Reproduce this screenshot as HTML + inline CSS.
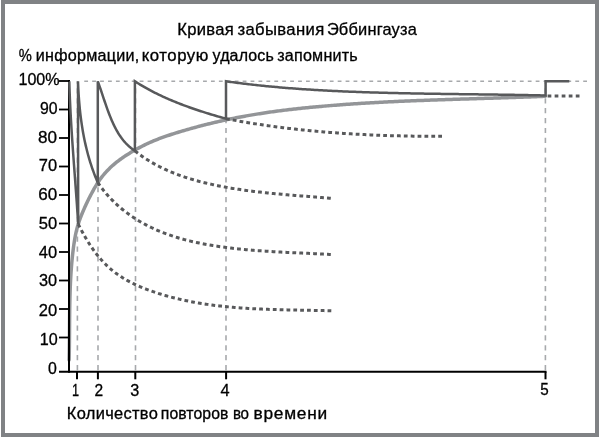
<!DOCTYPE html>
<html><head><meta charset="utf-8"><style>
html,body{margin:0;padding:0;background:#fff;}
body{width:600px;height:437px;overflow:hidden;}
svg{display:block;}
text{font-family:"Liberation Sans",sans-serif;fill:#000;stroke:#000;stroke-width:0.3px;}
svg{will-change:transform;}
</style></head><body>
<svg width="600" height="437" viewBox="0 0 600 437">
<rect x="0" y="0" width="600" height="437" fill="#fff"/>
<rect x="3" y="2" width="594" height="433" fill="none" stroke="#808285" stroke-width="4"/>
<g stroke="#a7a9ac" stroke-width="1.5" fill="none">
<line x1="84.25" y1="81.3" x2="587" y2="81.3" stroke-dasharray="3.8 4.12"/>
<g stroke-dasharray="5.2 4.68" stroke-width="1.6"><line x1="77.40" y1="370.2" x2="77.40" y2="81.30"/><line x1="98.00" y1="370.2" x2="98.00" y2="81.30"/><line x1="135.50" y1="370.2" x2="135.50" y2="81.30"/><line x1="226.00" y1="370.2" x2="226.00" y2="81.30"/><line x1="545.40" y1="370.2" x2="545.40" y2="81.30"/></g>
</g>
<path d="M69.10 360.00 L69.14 358.50 L69.17 357.00 L69.20 355.50 L69.23 354.00 L69.26 352.49 L69.29 350.99 L69.31 349.49 L69.33 347.98 L69.36 346.48 L69.37 344.97 L69.39 343.47 L69.41 341.96 L69.42 340.46 L69.44 338.95 L69.45 337.45 L69.46 335.94 L69.48 334.43 L69.49 332.92 L69.50 331.41 L69.51 329.91 L69.52 328.40 L69.53 326.89 L69.54 325.38 L69.55 323.87 L69.56 322.36 L69.58 320.85 L69.59 319.34 L69.60 317.83 L69.62 316.32 L69.63 314.81 L69.65 313.30 L69.67 311.79 L69.69 310.28 L69.71 308.77 L69.73 307.27 L69.76 305.76 L69.78 304.25 L69.81 302.74 L69.84 301.23 L69.88 299.72 L69.91 298.21 L69.95 296.70 L69.99 295.19 L70.04 293.68 L70.08 292.17 L70.13 290.66 L70.19 289.16 L70.24 287.65 L70.30 286.14 L70.37 284.63 L70.43 283.13 L70.50 281.62 L70.58 280.11 L70.66 278.61 L70.74 277.10 L70.83 275.60 L70.92 274.09 L71.02 272.59 L71.12 271.09 L71.23 269.58 L71.34 268.08 L71.46 266.58 L71.58 265.08 L71.71 263.58 L71.84 262.08 L71.98 260.58 L72.13 259.08 L72.28 257.58 L72.44 256.08 L72.60 254.59 L72.77 253.09 L72.95 251.60 L73.13 250.10 L73.32 248.61 L73.51 247.11 L73.72 245.62 L73.93 244.13 L74.15 242.64 L74.38 241.15 L74.62 239.67 L74.88 238.19 L75.15 236.71 L75.43 235.23 L75.73 233.76 L76.05 232.30 L76.39 230.84 L76.74 229.38 L77.12 227.94 L77.52 226.49 L77.95 225.06 L78.39 223.63 L78.86 222.20 L79.34 220.79 L79.84 219.37 L80.36 217.97 L80.90 216.56 L81.45 215.16 L82.01 213.77 L82.59 212.37 L83.17 210.98 L83.77 209.60 L84.39 208.21 L85.00 206.83 L85.63 205.45 L86.27 204.07 L86.92 202.70 L87.57 201.33 L88.24 199.96 L88.91 198.60 L89.59 197.24 L90.29 195.89 L90.99 194.54 L91.70 193.20 L92.42 191.87 L93.15 190.54 L93.88 189.22 L94.63 187.90 L95.40 186.60 L96.17 185.31 L96.96 184.03 L97.77 182.76 L98.60 181.51 L99.44 180.27 L100.31 179.05 L101.19 177.85 L102.10 176.67 L103.03 175.50 L103.98 174.36 L104.95 173.23 L105.95 172.12 L106.96 171.03 L107.99 169.95 L109.04 168.90 L110.11 167.86 L111.20 166.83 L112.30 165.83 L113.42 164.84 L114.56 163.87 L115.71 162.91 L116.88 161.97 L118.07 161.05 L119.27 160.14 L120.48 159.24 L121.71 158.37 L122.95 157.50 L124.20 156.65 L125.46 155.82 L126.73 155.00 L128.01 154.19 L129.30 153.39 L130.60 152.60 L131.91 151.83 L133.22 151.06 L134.53 150.31 L135.85 149.56 L137.18 148.83 L138.51 148.10 L139.84 147.39 L141.18 146.69 L142.52 146.00 L143.87 145.32 L145.22 144.66 L146.58 144.01 L147.94 143.37 L149.31 142.75 L150.69 142.14 L152.07 141.55 L153.45 140.96 L154.84 140.39 L156.23 139.83 L157.63 139.28 L159.03 138.74 L160.44 138.21 L161.84 137.69 L163.26 137.18 L164.67 136.68 L166.09 136.18 L167.51 135.70 L168.94 135.22 L170.36 134.75 L171.79 134.28 L173.22 133.83 L174.66 133.37 L176.09 132.92 L177.53 132.48 L178.97 132.04 L180.41 131.61 L181.85 131.18 L183.29 130.75 L184.74 130.33 L186.18 129.91 L187.63 129.49 L189.08 129.08 L190.52 128.67 L191.97 128.27 L193.43 127.87 L194.88 127.47 L196.33 127.07 L197.79 126.68 L199.24 126.30 L200.70 125.91 L202.16 125.54 L203.61 125.16 L205.07 124.79 L206.54 124.42 L208.00 124.06 L209.46 123.70 L210.92 123.34 L212.39 122.99 L213.85 122.64 L215.32 122.29 L216.79 121.95 L218.26 121.61 L219.73 121.28 L221.20 120.95 L222.67 120.62 L224.14 120.30 L225.61 119.98 L227.09 119.66 L228.56 119.35 L230.04 119.04 L231.51 118.73 L232.99 118.43 L234.47 118.14 L235.95 117.84 L237.42 117.55 L238.90 117.27 L240.38 116.99 L241.87 116.71 L243.35 116.43 L244.83 116.16 L246.31 115.89 L247.80 115.63 L249.28 115.37 L250.76 115.11 L252.25 114.86 L253.74 114.61 L255.22 114.37 L256.71 114.12 L258.20 113.89 L259.69 113.65 L261.17 113.42 L262.66 113.19 L264.15 112.97 L265.64 112.74 L267.13 112.52 L268.63 112.31 L270.12 112.10 L271.61 111.89 L273.10 111.68 L274.59 111.48 L276.09 111.28 L277.58 111.08 L279.08 110.88 L280.57 110.69 L282.06 110.50 L283.56 110.31 L285.06 110.13 L286.55 109.95 L288.05 109.77 L289.54 109.59 L291.04 109.42 L292.54 109.25 L294.04 109.08 L295.53 108.91 L297.03 108.75 L298.53 108.58 L300.03 108.42 L301.53 108.27 L303.02 108.11 L304.52 107.96 L306.02 107.80 L307.52 107.65 L309.02 107.51 L310.52 107.36 L312.02 107.22 L313.52 107.07 L315.02 106.93 L316.52 106.80 L318.02 106.66 L319.52 106.52 L321.03 106.39 L322.53 106.26 L324.03 106.13 L325.53 106.00 L327.03 105.87 L328.53 105.75 L330.03 105.62 L331.53 105.50 L333.04 105.38 L334.54 105.26 L336.04 105.14 L337.54 105.03 L339.04 104.91 L340.55 104.80 L342.05 104.69 L343.55 104.58 L345.05 104.47 L346.56 104.36 L348.06 104.25 L349.56 104.15 L351.06 104.05 L352.57 103.95 L354.07 103.84 L355.57 103.75 L357.08 103.65 L358.58 103.55 L360.08 103.46 L361.59 103.36 L363.09 103.27 L364.60 103.18 L366.10 103.09 L367.60 103.00 L369.11 102.91 L370.61 102.82 L372.12 102.74 L373.62 102.65 L375.12 102.57 L376.63 102.48 L378.13 102.40 L379.64 102.32 L381.14 102.24 L382.65 102.16 L384.15 102.09 L385.66 102.01 L387.16 101.94 L388.67 101.86 L390.17 101.79 L391.68 101.72 L393.18 101.64 L394.69 101.57 L396.19 101.50 L397.70 101.43 L399.20 101.37 L400.71 101.30 L402.21 101.23 L403.72 101.17 L405.22 101.10 L406.73 101.04 L408.24 100.97 L409.74 100.91 L411.25 100.85 L412.75 100.79 L414.26 100.73 L415.77 100.67 L417.27 100.61 L418.78 100.55 L420.28 100.49 L421.79 100.44 L423.30 100.38 L424.80 100.32 L426.31 100.27 L427.81 100.21 L429.32 100.16 L430.83 100.10 L432.33 100.05 L433.84 100.00 L435.35 99.95 L436.85 99.89 L438.36 99.84 L439.87 99.79 L441.37 99.74 L442.88 99.69 L444.38 99.64 L445.89 99.59 L447.40 99.54 L448.90 99.49 L450.41 99.44 L451.92 99.39 L453.42 99.35 L454.93 99.30 L456.44 99.25 L457.94 99.20 L459.45 99.16 L460.96 99.11 L462.46 99.06 L463.97 99.02 L465.48 98.97 L466.98 98.92 L468.49 98.88 L470.00 98.83 L471.50 98.79 L473.01 98.74 L474.52 98.69 L476.02 98.65 L477.53 98.60 L479.04 98.56 L480.54 98.51 L482.05 98.46 L483.56 98.42 L485.06 98.37 L486.57 98.33 L488.08 98.28 L489.58 98.23 L491.09 98.19 L492.60 98.14 L494.10 98.09 L495.61 98.05 L497.12 98.00 L498.62 97.95 L500.13 97.91 L501.63 97.86 L503.14 97.81 L504.65 97.76 L506.15 97.71 L507.66 97.66 L509.17 97.62 L510.67 97.57 L512.18 97.52 L513.68 97.47 L515.19 97.42 L516.70 97.36 L518.20 97.31 L519.71 97.26 L521.21 97.21 L522.72 97.16 L524.22 97.10 L525.73 97.05 L527.24 97.00 L528.74 96.94 L530.25 96.89 L531.75 96.83 L533.26 96.77 L534.76 96.72 L536.27 96.66 L537.77 96.60 L539.28 96.54 L540.78 96.48 L542.29 96.42 L543.79 96.36 L545.30 96.30" fill="none" stroke="#939598" stroke-width="3.5" stroke-linecap="round" stroke-linejoin="round"/>
<g fill="none" stroke="#58595b" stroke-width="3" stroke-dasharray="3.8 3.1">
<path d="M78.20 224.00 L78.86 225.32 L79.53 226.65 L80.21 227.98 L80.91 229.30 L81.61 230.63 L82.32 231.96 L83.05 233.28 L83.78 234.60 L84.53 235.92 L85.29 237.24 L86.06 238.55 L86.85 239.86 L87.64 241.17 L88.45 242.46 L89.27 243.75 L90.10 245.04 L90.95 246.31 L91.81 247.58 L92.68 248.84 L93.56 250.08 L94.46 251.32 L95.38 252.55 L96.30 253.76 L97.24 254.96 L98.19 256.15 L99.16 257.32 L100.15 258.48 L101.14 259.63 L102.15 260.76 L103.18 261.87 L104.22 262.97 L105.28 264.05 L106.35 265.11 L107.44 266.15 L108.54 267.17 L109.66 268.17 L110.79 269.15 L111.94 270.11 L113.11 271.05 L114.29 271.97 L115.48 272.88 L116.69 273.76 L117.91 274.62 L119.14 275.47 L120.39 276.30 L121.65 277.11 L122.92 277.91 L124.20 278.68 L125.49 279.44 L126.80 280.19 L128.11 280.92 L129.44 281.63 L130.77 282.33 L132.11 283.01 L133.46 283.68 L134.82 284.34 L136.19 284.98 L137.57 285.60 L138.95 286.22 L140.34 286.82 L141.74 287.40 L143.14 287.98 L144.55 288.54 L145.96 289.09 L147.38 289.63 L148.80 290.16 L150.23 290.68 L151.66 291.19 L153.09 291.68 L154.53 292.17 L155.97 292.65 L157.42 293.12 L158.86 293.58 L160.31 294.03 L161.76 294.47 L163.21 294.91 L164.66 295.33 L166.11 295.75 L167.57 296.16 L169.03 296.56 L170.49 296.95 L171.95 297.34 L173.41 297.71 L174.87 298.08 L176.34 298.44 L177.81 298.80 L179.28 299.14 L180.75 299.48 L182.22 299.81 L183.69 300.14 L185.17 300.45 L186.65 300.76 L188.12 301.06 L189.60 301.36 L191.08 301.65 L192.57 301.93 L194.05 302.20 L195.54 302.47 L197.02 302.73 L198.51 302.99 L200.00 303.24 L201.49 303.48 L202.98 303.71 L204.47 303.95 L205.97 304.17 L207.46 304.39 L208.96 304.60 L210.45 304.81 L211.95 305.01 L213.45 305.20 L214.95 305.40 L216.45 305.58 L217.95 305.76 L219.45 305.93 L220.96 306.10 L222.46 306.27 L223.96 306.43 L225.47 306.58 L226.98 306.73 L228.48 306.88 L229.99 307.02 L231.50 307.16 L233.01 307.29 L234.52 307.42 L236.03 307.54 L237.54 307.66 L239.05 307.77 L240.56 307.89 L242.08 307.99 L243.59 308.10 L245.10 308.20 L246.62 308.29 L248.13 308.39 L249.65 308.48 L251.16 308.56 L252.68 308.65 L254.19 308.73 L255.71 308.81 L257.23 308.88 L258.74 308.95 L260.26 309.02 L261.78 309.09 L263.29 309.15 L264.81 309.21 L266.33 309.27 L267.85 309.33 L269.36 309.38 L270.88 309.43 L272.40 309.48 L273.92 309.53 L275.43 309.58 L276.95 309.62 L278.47 309.66 L279.98 309.71 L281.50 309.74 L283.02 309.78 L284.53 309.82 L286.05 309.86 L287.57 309.89 L289.08 309.92 L290.60 309.96 L292.11 309.99 L293.63 310.02 L295.14 310.05 L296.65 310.08 L298.17 310.11 L299.68 310.14 L301.19 310.17 L302.71 310.19 L304.22 310.22 L305.73 310.25 L307.24 310.28 L308.75 310.31 L310.26 310.33 L311.76 310.36 L313.27 310.39 L314.78 310.42 L316.29 310.45 L317.79 310.48 L319.30 310.51 L320.80 310.54 L322.30 310.58 L323.80 310.61 L325.30 310.65 L326.80 310.68 L328.30 310.72 L329.80 310.76 L331.30 310.80" stroke-dasharray="3.768 3.074"/><path d="M97.80 182.60 L98.68 183.89 L99.58 185.16 L100.49 186.42 L101.41 187.67 L102.35 188.89 L103.30 190.11 L104.27 191.31 L105.24 192.49 L106.23 193.66 L107.24 194.82 L108.25 195.96 L109.28 197.08 L110.32 198.19 L111.38 199.29 L112.44 200.37 L113.52 201.44 L114.61 202.49 L115.71 203.53 L116.82 204.55 L117.95 205.56 L119.08 206.56 L120.22 207.54 L121.38 208.51 L122.55 209.47 L123.72 210.41 L124.91 211.34 L126.10 212.25 L127.31 213.15 L128.53 214.04 L129.75 214.91 L130.98 215.77 L132.23 216.62 L133.48 217.45 L134.74 218.27 L136.01 219.08 L137.29 219.88 L138.58 220.66 L139.87 221.42 L141.17 222.18 L142.48 222.92 L143.80 223.65 L145.12 224.37 L146.46 225.08 L147.80 225.77 L149.14 226.45 L150.49 227.12 L151.85 227.77 L153.22 228.41 L154.59 229.05 L155.97 229.66 L157.35 230.27 L158.74 230.87 L160.14 231.45 L161.54 232.02 L162.94 232.58 L164.35 233.13 L165.77 233.66 L167.19 234.19 L168.61 234.70 L170.04 235.20 L171.47 235.69 L172.91 236.17 L174.35 236.64 L175.79 237.09 L177.24 237.54 L178.69 237.97 L180.15 238.40 L181.61 238.82 L183.07 239.22 L184.53 239.62 L186.00 240.00 L187.47 240.38 L188.95 240.75 L190.42 241.11 L191.90 241.46 L193.38 241.80 L194.87 242.13 L196.35 242.45 L197.84 242.77 L199.33 243.08 L200.82 243.38 L202.32 243.67 L203.81 243.96 L205.31 244.24 L206.81 244.51 L208.31 244.78 L209.81 245.04 L211.31 245.29 L212.81 245.53 L214.32 245.77 L215.82 246.01 L217.33 246.24 L218.84 246.46 L220.34 246.68 L221.85 246.89 L223.36 247.10 L224.87 247.30 L226.38 247.50 L227.89 247.69 L229.40 247.88 L230.91 248.06 L232.42 248.24 L233.93 248.41 L235.44 248.58 L236.96 248.75 L238.47 248.91 L239.98 249.06 L241.50 249.22 L243.01 249.36 L244.53 249.51 L246.04 249.65 L247.56 249.79 L249.07 249.92 L250.59 250.05 L252.10 250.18 L253.62 250.30 L255.14 250.42 L256.65 250.54 L258.17 250.65 L259.69 250.76 L261.20 250.87 L262.72 250.98 L264.24 251.08 L265.75 251.18 L267.27 251.28 L268.79 251.37 L270.31 251.47 L271.82 251.56 L273.34 251.65 L274.86 251.74 L276.37 251.82 L277.89 251.91 L279.41 251.99 L280.92 252.07 L282.44 252.15 L283.96 252.23 L285.47 252.30 L286.99 252.38 L288.51 252.45 L290.02 252.53 L291.54 252.60 L293.05 252.67 L294.57 252.74 L296.08 252.81 L297.60 252.88 L299.11 252.95 L300.63 253.02 L302.14 253.09 L303.65 253.16 L305.16 253.23 L306.68 253.30 L308.19 253.37 L309.70 253.44 L311.21 253.51 L312.72 253.58 L314.23 253.65 L315.74 253.72 L317.25 253.80 L318.76 253.87 L320.26 253.94 L321.77 254.02 L323.28 254.10 L324.78 254.17 L326.29 254.25 L327.79 254.33 L329.30 254.42 L330.80 254.50" stroke-dasharray="3.818 3.115"/><path d="M134.90 150.90 L136.11 151.86 L137.33 152.80 L138.55 153.72 L139.79 154.63 L141.03 155.52 L142.28 156.40 L143.53 157.26 L144.79 158.10 L146.06 158.93 L147.34 159.75 L148.63 160.55 L149.92 161.34 L151.21 162.11 L152.52 162.87 L153.83 163.61 L155.15 164.35 L156.47 165.06 L157.80 165.77 L159.13 166.46 L160.48 167.14 L161.82 167.80 L163.18 168.46 L164.53 169.10 L165.90 169.72 L167.27 170.34 L168.64 170.94 L170.02 171.54 L171.41 172.12 L172.80 172.69 L174.19 173.25 L175.59 173.79 L176.99 174.33 L178.40 174.85 L179.81 175.37 L181.23 175.88 L182.65 176.37 L184.08 176.85 L185.50 177.33 L186.94 177.80 L188.37 178.25 L189.81 178.70 L191.26 179.14 L192.70 179.56 L194.15 179.98 L195.61 180.40 L197.06 180.80 L198.52 181.19 L199.99 181.58 L201.45 181.96 L202.92 182.33 L204.39 182.70 L205.86 183.05 L207.34 183.40 L208.81 183.75 L210.29 184.08 L211.77 184.41 L213.26 184.73 L214.74 185.05 L216.23 185.36 L217.72 185.67 L219.21 185.96 L220.70 186.26 L222.19 186.54 L223.69 186.83 L225.18 187.10 L226.68 187.37 L228.18 187.63 L229.68 187.89 L231.18 188.15 L232.68 188.40 L234.19 188.64 L235.69 188.88 L237.20 189.11 L238.71 189.34 L240.21 189.57 L241.72 189.79 L243.23 190.00 L244.75 190.21 L246.26 190.42 L247.77 190.62 L249.28 190.82 L250.80 191.02 L252.31 191.21 L253.83 191.40 L255.34 191.58 L256.86 191.76 L258.38 191.94 L259.90 192.11 L261.41 192.28 L262.93 192.45 L264.45 192.61 L265.97 192.77 L267.49 192.93 L269.01 193.09 L270.52 193.24 L272.04 193.39 L273.56 193.54 L275.08 193.68 L276.60 193.83 L278.12 193.97 L279.64 194.11 L281.15 194.24 L282.67 194.38 L284.19 194.51 L285.71 194.64 L287.22 194.77 L288.74 194.90 L290.25 195.03 L291.77 195.16 L293.28 195.28 L294.80 195.40 L296.31 195.53 L297.82 195.65 L299.33 195.77 L300.84 195.89 L302.35 196.01 L303.86 196.13 L305.37 196.25 L306.88 196.37 L308.38 196.48 L309.89 196.60 L311.39 196.72 L312.89 196.84 L314.39 196.96 L315.89 197.08 L317.39 197.19 L318.88 197.31 L320.38 197.44 L321.87 197.56 L323.36 197.68 L324.86 197.80 L326.34 197.92 L327.83 198.05 L329.32 198.17 L330.80 198.30" stroke-dasharray="3.812 3.110"/><path d="M226.00 118.70 L227.49 118.98 L228.98 119.27 L230.48 119.55 L231.97 119.82 L233.47 120.10 L234.96 120.37 L236.45 120.64 L237.95 120.90 L239.45 121.17 L240.94 121.43 L242.44 121.68 L243.93 121.94 L245.43 122.19 L246.93 122.44 L248.43 122.69 L249.92 122.93 L251.42 123.17 L252.92 123.41 L254.42 123.65 L255.92 123.88 L257.42 124.11 L258.92 124.34 L260.42 124.57 L261.92 124.79 L263.42 125.01 L264.93 125.23 L266.43 125.45 L267.93 125.66 L269.43 125.87 L270.94 126.08 L272.44 126.29 L273.94 126.49 L275.45 126.69 L276.95 126.89 L278.46 127.09 L279.96 127.28 L281.47 127.47 L282.97 127.66 L284.48 127.85 L285.98 128.03 L287.49 128.22 L289.00 128.40 L290.50 128.57 L292.01 128.75 L293.52 128.92 L295.03 129.09 L296.54 129.26 L298.04 129.42 L299.55 129.59 L301.06 129.75 L302.57 129.91 L304.08 130.06 L305.59 130.22 L307.10 130.37 L308.61 130.52 L310.12 130.67 L311.63 130.81 L313.14 130.96 L314.65 131.10 L316.16 131.24 L317.67 131.37 L319.19 131.51 L320.70 131.64 L322.21 131.77 L323.72 131.90 L325.23 132.03 L326.75 132.15 L328.26 132.27 L329.77 132.39 L331.29 132.51 L332.80 132.63 L334.31 132.74 L335.83 132.85 L337.34 132.96 L338.85 133.07 L340.37 133.18 L341.88 133.28 L343.40 133.38 L344.91 133.48 L346.43 133.58 L347.94 133.68 L349.46 133.77 L350.97 133.86 L352.49 133.95 L354.00 134.04 L355.52 134.13 L357.03 134.21 L358.55 134.30 L360.06 134.38 L361.58 134.46 L363.10 134.53 L364.61 134.61 L366.13 134.68 L367.65 134.76 L369.16 134.83 L370.68 134.89 L372.20 134.96 L373.71 135.03 L375.23 135.09 L376.75 135.15 L378.26 135.21 L379.78 135.27 L381.30 135.32 L382.82 135.38 L384.33 135.43 L385.85 135.48 L387.37 135.53 L388.89 135.58 L390.40 135.63 L391.92 135.67 L393.44 135.71 L394.96 135.75 L396.47 135.79 L397.99 135.83 L399.51 135.87 L401.03 135.90 L402.54 135.94 L404.06 135.97 L405.58 136.00 L407.10 136.03 L408.62 136.06 L410.13 136.08 L411.65 136.11 L413.17 136.13 L414.69 136.15 L416.20 136.17 L417.72 136.19 L419.24 136.21 L420.76 136.22 L422.27 136.24 L423.79 136.25 L425.31 136.26 L426.83 136.27 L428.35 136.28 L429.86 136.29 L431.38 136.29 L432.90 136.30 L434.41 136.30 L435.93 136.30 L437.45 136.31 L438.97 136.30 L440.48 136.30 L442.00 136.30" stroke-dasharray="3.789 3.091"/><path d="M547.60 96.10 L579.50 96.10" stroke-dasharray="3.729 3.314"/>
</g>
<g stroke="#000" stroke-width="2" fill="none">
<line x1="69.0" y1="80" x2="69.0" y2="372.7"/>
<line x1="59" y1="371.7" x2="546.5" y2="371.7"/>
<line x1="77.00" y1="371.70" x2="77.00" y2="379.3"/><line x1="97.90" y1="371.70" x2="97.90" y2="379.3"/><line x1="135.30" y1="371.70" x2="135.30" y2="379.3"/><line x1="226.10" y1="371.70" x2="226.10" y2="379.3"/><line x1="545.50" y1="371.70" x2="545.50" y2="379.3"/>
</g>
<path d="M69.30 81.30 L69.30 81.30 L69.34 82.82 L69.39 84.34 L69.43 85.86 L69.48 87.38 L69.53 88.90 L69.58 90.42 L69.64 91.94 L69.70 93.46 L69.75 94.98 L69.82 96.50 L69.88 98.02 L69.94 99.54 L70.01 101.06 L70.08 102.58 L70.15 104.10 L70.22 105.61 L70.29 107.13 L70.37 108.65 L70.45 110.17 L70.52 111.69 L70.60 113.21 L70.69 114.73 L70.77 116.25 L70.85 117.76 L70.94 119.28 L71.03 120.80 L71.12 122.32 L71.21 123.84 L71.30 125.36 L71.39 126.88 L71.48 128.39 L71.58 129.91 L71.67 131.43 L71.77 132.95 L71.87 134.47 L71.97 135.98 L72.07 137.50 L72.17 139.02 L72.27 140.54 L72.37 142.06 L72.48 143.57 L72.58 145.09 L72.69 146.61 L72.79 148.13 L72.90 149.64 L73.01 151.16 L73.12 152.68 L73.22 154.20 L73.33 155.71 L73.44 157.23 L73.55 158.75 L73.66 160.27 L73.77 161.78 L73.88 163.30 L74.00 164.82 L74.11 166.34 L74.22 167.85 L74.33 169.37 L74.44 170.89 L74.56 172.41 L74.67 173.92 L74.78 175.44 L74.89 176.96 L75.01 178.48 L75.12 179.99 L75.23 181.51 L75.34 183.03 L75.46 184.55 L75.57 186.06 L75.68 187.58 L75.79 189.10 L75.90 190.61 L76.01 192.13 L76.13 193.65 L76.24 195.17 L76.34 196.68 L76.45 198.20 L76.56 199.72 L76.67 201.24 L76.78 202.75 L76.89 204.27 L76.99 205.79 L77.10 207.31 L77.20 208.82 L77.31 210.34 L77.41 211.86 L77.51 213.38 L77.61 214.89 L77.71 216.41 L77.81 217.93 L77.91 219.45 L78.01 220.96 L78.10 222.48 L78.20 224.00 L78.00 81.30 L78.00 81.30 L78.06 82.83 L78.12 84.35 L78.19 85.88 L78.26 87.41 L78.33 88.94 L78.42 90.46 L78.50 91.99 L78.59 93.52 L78.69 95.04 L78.79 96.57 L78.90 98.09 L79.01 99.62 L79.13 101.14 L79.26 102.66 L79.39 104.19 L79.52 105.71 L79.67 107.23 L79.82 108.75 L79.97 110.27 L80.13 111.79 L80.30 113.31 L80.48 114.82 L80.66 116.34 L80.85 117.86 L81.05 119.37 L81.25 120.88 L81.46 122.39 L81.68 123.90 L81.91 125.41 L82.14 126.92 L82.38 128.42 L82.63 129.93 L82.89 131.43 L83.15 132.93 L83.43 134.43 L83.71 135.93 L84.00 137.42 L84.30 138.91 L84.61 140.41 L84.92 141.90 L85.25 143.38 L85.58 144.87 L85.93 146.35 L86.28 147.83 L86.64 149.31 L87.01 150.79 L87.39 152.26 L87.78 153.74 L88.18 155.21 L88.59 156.67 L89.01 158.14 L89.44 159.60 L89.89 161.06 L90.34 162.52 L90.80 163.97 L91.27 165.42 L91.75 166.87 L92.25 168.32 L92.75 169.76 L93.27 171.20 L93.79 172.63 L94.33 174.07 L94.88 175.50 L95.44 176.93 L96.01 178.35 L96.60 179.77 L97.19 181.19 L97.80 182.60 L97.80 81.30 L97.80 81.30 L98.31 82.73 L98.82 84.16 L99.33 85.61 L99.83 87.05 L100.33 88.51 L100.82 89.97 L101.31 91.43 L101.81 92.90 L102.30 94.37 L102.79 95.84 L103.28 97.31 L103.77 98.79 L104.27 100.27 L104.77 101.74 L105.27 103.22 L105.78 104.70 L106.29 106.17 L106.81 107.64 L107.34 109.11 L107.87 110.58 L108.41 112.04 L108.97 113.50 L109.53 114.95 L110.10 116.39 L110.68 117.83 L111.27 119.27 L111.88 120.69 L112.50 122.11 L113.14 123.52 L113.80 124.91 L114.47 126.29 L115.16 127.66 L115.88 129.02 L116.61 130.36 L117.37 131.69 L118.15 133.00 L118.96 134.29 L119.79 135.57 L120.65 136.82 L121.54 138.05 L122.46 139.26 L123.41 140.45 L124.40 141.62 L125.41 142.76 L126.46 143.88 L127.55 144.97 L128.68 146.03 L129.84 147.06 L131.04 148.07 L132.29 149.04 L133.57 149.99 L134.90 150.90 L134.90 81.30 L134.90 81.30 L136.20 82.13 L137.50 82.96 L138.82 83.77 L140.13 84.57 L141.46 85.36 L142.79 86.15 L144.12 86.92 L145.46 87.68 L146.80 88.44 L148.15 89.18 L149.51 89.92 L150.87 90.64 L152.24 91.36 L153.61 92.07 L154.98 92.77 L156.36 93.46 L157.74 94.14 L159.13 94.81 L160.52 95.48 L161.92 96.14 L163.32 96.78 L164.73 97.43 L166.13 98.06 L167.55 98.68 L168.96 99.30 L170.38 99.91 L171.81 100.52 L173.23 101.11 L174.66 101.70 L176.10 102.28 L177.53 102.86 L178.97 103.43 L180.41 103.99 L181.86 104.54 L183.31 105.09 L184.76 105.63 L186.21 106.17 L187.66 106.70 L189.12 107.22 L190.58 107.74 L192.04 108.25 L193.51 108.76 L194.97 109.26 L196.44 109.75 L197.91 110.24 L199.38 110.73 L200.85 111.21 L202.32 111.68 L203.80 112.15 L205.27 112.62 L206.75 113.08 L208.23 113.53 L209.71 113.98 L211.19 114.43 L212.67 114.88 L214.15 115.31 L215.63 115.75 L217.11 116.18 L218.59 116.61 L220.07 117.03 L221.55 117.46 L223.04 117.87 L224.52 118.29 L226.00 118.70 L226.00 81.30 L226.00 81.30 L227.49 81.51 L228.99 81.72 L230.48 81.93 L231.98 82.13 L233.47 82.33 L234.97 82.53 L236.47 82.73 L237.96 82.92 L239.46 83.11 L240.95 83.30 L242.45 83.48 L243.95 83.67 L245.45 83.85 L246.94 84.03 L248.44 84.20 L249.94 84.38 L251.44 84.55 L252.94 84.72 L254.44 84.88 L255.94 85.05 L257.44 85.21 L258.94 85.37 L260.44 85.53 L261.94 85.68 L263.44 85.84 L264.94 85.99 L266.44 86.14 L267.94 86.28 L269.44 86.43 L270.94 86.57 L272.44 86.71 L273.95 86.85 L275.45 86.99 L276.95 87.12 L278.45 87.26 L279.96 87.39 L281.46 87.52 L282.96 87.64 L284.46 87.77 L285.97 87.89 L287.47 88.01 L288.98 88.13 L290.48 88.25 L291.98 88.37 L293.49 88.48 L294.99 88.59 L296.50 88.70 L298.00 88.81 L299.51 88.92 L301.01 89.02 L302.52 89.13 L304.02 89.23 L305.53 89.33 L307.04 89.43 L308.54 89.53 L310.05 89.62 L311.56 89.72 L313.06 89.81 L314.57 89.90 L316.08 89.99 L317.58 90.08 L319.09 90.17 L320.60 90.25 L322.10 90.34 L323.61 90.42 L325.12 90.50 L326.63 90.58 L328.13 90.66 L329.64 90.74 L331.15 90.81 L332.66 90.89 L334.17 90.96 L335.68 91.03 L337.18 91.10 L338.69 91.17 L340.20 91.24 L341.71 91.31 L343.22 91.38 L344.73 91.44 L346.24 91.50 L347.75 91.57 L349.26 91.63 L350.76 91.69 L352.27 91.75 L353.78 91.81 L355.29 91.87 L356.80 91.92 L358.31 91.98 L359.82 92.03 L361.33 92.09 L362.84 92.14 L364.35 92.19 L365.86 92.24 L367.37 92.29 L368.88 92.34 L370.39 92.39 L371.90 92.44 L373.41 92.48 L374.92 92.53 L376.43 92.58 L377.94 92.62 L379.46 92.66 L380.97 92.70 L382.48 92.75 L383.99 92.79 L385.50 92.83 L387.01 92.87 L388.52 92.90 L390.03 92.94 L391.54 92.98 L393.05 93.02 L394.56 93.05 L396.08 93.09 L397.59 93.12 L399.10 93.15 L400.61 93.19 L402.12 93.22 L403.63 93.25 L405.14 93.28 L406.65 93.31 L408.17 93.34 L409.68 93.37 L411.19 93.40 L412.70 93.43 L414.21 93.46 L415.72 93.49 L417.23 93.51 L418.75 93.54 L420.26 93.57 L421.77 93.59 L423.28 93.62 L424.79 93.64 L426.30 93.67 L427.81 93.69 L429.33 93.72 L430.84 93.74 L432.35 93.76 L433.86 93.78 L435.37 93.81 L436.88 93.83 L438.40 93.85 L439.91 93.87 L441.42 93.89 L442.93 93.91 L444.44 93.94 L445.95 93.96 L447.46 93.98 L448.98 94.00 L450.49 94.02 L452.00 94.04 L453.51 94.06 L455.02 94.08 L456.53 94.10 L458.04 94.11 L459.56 94.13 L461.07 94.15 L462.58 94.17 L464.09 94.19 L465.60 94.21 L467.11 94.23 L468.62 94.25 L470.13 94.27 L471.64 94.29 L473.16 94.30 L474.67 94.32 L476.18 94.34 L477.69 94.36 L479.20 94.38 L480.71 94.40 L482.22 94.42 L483.73 94.44 L485.24 94.46 L486.75 94.48 L488.26 94.50 L489.77 94.52 L491.28 94.54 L492.79 94.56 L494.30 94.58 L495.81 94.60 L497.32 94.62 L498.83 94.64 L500.34 94.66 L501.85 94.69 L503.36 94.71 L504.87 94.73 L506.38 94.75 L507.89 94.78 L509.40 94.80 L510.91 94.82 L512.42 94.85 L513.93 94.87 L515.44 94.90 L516.95 94.92 L518.46 94.95 L519.96 94.97 L521.47 95.00 L522.98 95.03 L524.49 95.06 L526.00 95.08 L527.51 95.11 L529.02 95.14 L530.52 95.17 L532.03 95.20 L533.54 95.23 L535.05 95.26 L536.56 95.30 L538.06 95.33 L539.57 95.36 L541.08 95.40 L542.59 95.43 L544.09 95.47 L545.60 95.50 L545.60 81.30 L569.3 81.30" fill="none" stroke="#58595b" stroke-width="2.5" stroke-linejoin="miter"/>
<g stroke="#000" stroke-width="1.8" fill="none"><line x1="59" y1="337.50" x2="69.00" y2="337.50"/><line x1="59" y1="309.00" x2="69.00" y2="309.00"/><line x1="59" y1="280.50" x2="69.00" y2="280.50"/><line x1="59" y1="252.00" x2="69.00" y2="252.00"/><line x1="59" y1="223.50" x2="69.00" y2="223.50"/><line x1="59" y1="195.00" x2="69.00" y2="195.00"/><line x1="59" y1="166.50" x2="69.00" y2="166.50"/><line x1="59" y1="138.00" x2="69.00" y2="138.00"/><line x1="59" y1="109.50" x2="69.00" y2="109.50"/><line x1="59" y1="81.00" x2="69.00" y2="81.00"/></g>
<g font-size="16">
<text transform="translate(177.171 34.700) scale(1.0447 1)" font-size="15.9" textLength="54.189" lengthAdjust="spacing">Кривая</text><text transform="translate(237.474 34.700) scale(1.0505 1)" font-size="15.9" textLength="82.579" lengthAdjust="spacing">забывания</text><text transform="translate(326.875 34.700) scale(1.0318 1)" font-size="15.9" textLength="87.211" lengthAdjust="spacing">Эббингауза</text><text transform="translate(18.779 61.300) scale(0.9435 1)" font-size="15.6" textLength="13.875" lengthAdjust="spacing">%</text><text transform="translate(35.848 61.300) scale(1.0351 1)" font-size="15.6" textLength="99.786" lengthAdjust="spacing">информации,</text><text transform="translate(141.841 61.300) scale(1.0764 1)" font-size="15.6" textLength="61.758" lengthAdjust="spacing">которую</text><text transform="translate(212.559 61.300) scale(1.0236 1)" font-size="15.6" textLength="59.826" lengthAdjust="spacing">удалось</text><text transform="translate(277.140 61.300) scale(1.0343 1)" font-size="15.6" textLength="77.936" lengthAdjust="spacing">запомнить</text><text transform="translate(66.745 418.800) scale(1.0529 1)" font-size="15.6" textLength="86.554" lengthAdjust="spacing">Количество</text><text transform="translate(160.810 418.800) scale(1.0110 1)" font-size="15.6" textLength="66.807" lengthAdjust="spacing">повторов</text><text transform="translate(233.063 418.800) scale(0.9705 1)" font-size="15.6" textLength="16.457" lengthAdjust="spacing">во</text><text transform="translate(253.480 418.800) scale(1.1095 1)" font-size="15.6" textLength="66.462" lengthAdjust="spacing">времени</text>
</g>
<text x="18.48" y="84.80" font-size="16.6" textLength="41.16" lengthAdjust="spacingAndGlyphs">100%</text><text x="39.94" y="113.70" font-size="16.6" textLength="17.62" lengthAdjust="spacingAndGlyphs">90</text><text x="38.08" y="142.60" font-size="16.6" textLength="19.04" lengthAdjust="spacingAndGlyphs">80</text><text x="38.83" y="170.80" font-size="16.6" textLength="18.30" lengthAdjust="spacingAndGlyphs">70</text><text x="38.17" y="199.90" font-size="16.6" textLength="18.99" lengthAdjust="spacingAndGlyphs">60</text><text x="38.74" y="229.00" font-size="16.6" textLength="18.42" lengthAdjust="spacingAndGlyphs">50</text><text x="38.81" y="258.00" font-size="16.6" textLength="18.34" lengthAdjust="spacingAndGlyphs">40</text><text x="38.97" y="286.30" font-size="16.6" textLength="18.13" lengthAdjust="spacingAndGlyphs">30</text><text x="38.69" y="316.20" font-size="16.6" textLength="18.42" lengthAdjust="spacingAndGlyphs">20</text><text x="39.73" y="344.50" font-size="16.6" textLength="17.97" lengthAdjust="spacingAndGlyphs">10</text><text x="48.07" y="373.60" font-size="16.6" textLength="8.84" lengthAdjust="spacingAndGlyphs">0</text><text x="72.08" y="395.60" font-size="16.6" textLength="7.07" lengthAdjust="spacingAndGlyphs">1</text><text x="94.58" y="395.60" font-size="16.6" textLength="8.63" lengthAdjust="spacingAndGlyphs">2</text><text x="130.33" y="395.50" font-size="16.6" textLength="9.03" lengthAdjust="spacingAndGlyphs">3</text><text x="220.50" y="395.60" font-size="16.6" textLength="9.08" lengthAdjust="spacingAndGlyphs">4</text><text x="540.31" y="395.40" font-size="16.6" textLength="8.47" lengthAdjust="spacingAndGlyphs">5</text>
</svg>
</body></html>
